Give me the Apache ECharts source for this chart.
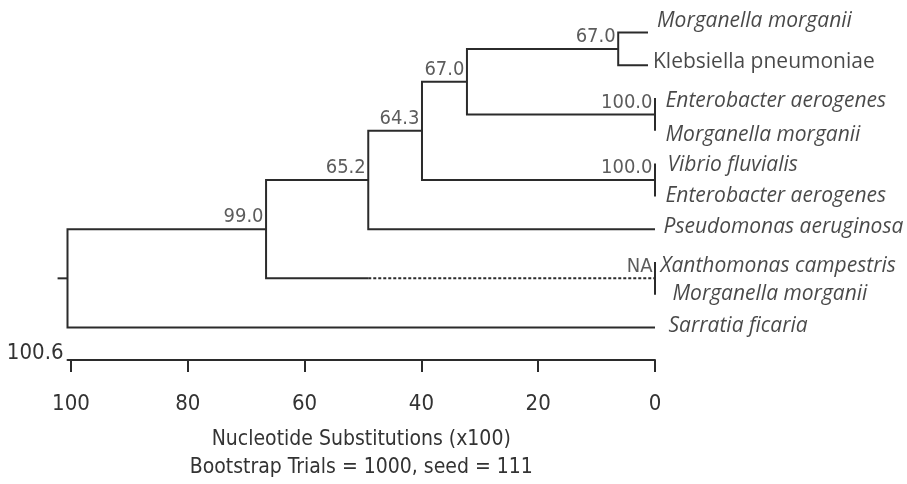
<!DOCTYPE html>
<html><head><meta charset="utf-8">
<script src="https://cdn.jsdelivr.net/npm/echarts@6/dist/echarts.min.js"></script>
<style>html,body{margin:0;padding:0;background:#fff}#c{width:907px;height:484px}</style>
</head><body><div id="c"></div>
<script>
// ---- data ----
const leafNames = ['Morganella morganii','Klebsiella pneumoniae','Enterobacter aerogenes','Morganella morganii','Vibrio fluvialis','Enterobacter aerogenes','Pseudomonas aeruginosa','Xanthomonas campestris','Morganella morganii','Sarratia ficaria'];
const leafHeights = [1.2,1.2,0,0,0,0,0,0,0,0];
const nodeHeights = [6.3,0,32.2,0,39.9,49.1,0,66.6,100.6];
const nodeSupport = ['67.0','100.0','67.0','100.0','64.3','65.2','NA','99.0',''];
const nodeChildren = [['L0','L1'],['L2','L3'],['N0','N1'],['L4','L5'],['N2','N3'],['N4','L6'],['L7','L8'],['N5','N6'],['N7','L9']];
const dashedBranchFrom = {N6: 49.1};
const rootEdge = 1.7;
const rootHeight = 100.6;
const tickValues = [0,20,40,60,80,100];
const axisTitle = ['Nucleotide Substitutions (x100)','Bootstrap Trials = 1000, seed = 111'];

// ---- style ----
const italicLeaf = [true,false,true,true,true,true,true,true,true,true];
const leafLabelNudge = [[9,-11.5],[5,-3],[10.5,3],[10.5,4],[12.5,1],[10.5,0],[8.5,-2],[5.5,4],[17.5,-1],[13.5,-1]];
const NARROW = "'Liberation Sans Narrow','Arial Narrow','DejaVu Sans Condensed',sans-serif";
const LINE = '#2b2b2b';

// ---- build tree geometry ----
const pos = {};
leafNames.forEach((n,i)=>{ pos['L'+i] = {h: leafHeights[i], y: i}; });
nodeHeights.forEach((h,i)=>{
  const [a,b] = nodeChildren[i];
  pos['N'+i] = {h, y: (pos[a].y + pos[b].y)/2};
});
const paths = [];
nodeChildren.forEach(([a,b],i)=>{
  const n = pos['N'+i], ca = pos[a], cb = pos[b];
  const pts = [[ca.h, ca.y],[n.h, ca.y],[n.h, cb.y]];
  if (dashedBranchFrom[b] !== undefined) {
    pts.push([dashedBranchFrom[b], cb.y]);
    paths.push({pts, dashed:false});
    paths.push({pts:[[dashedBranchFrom[b], cb.y],[cb.h, cb.y]], dashed:true});
  } else {
    pts.push([cb.h, cb.y]);
    paths.push({pts, dashed:false});
  }
});
const root = pos['N'+(nodeHeights.length-1)];
paths.push({pts:[[rootHeight+rootEdge, root.y],[rootHeight, root.y]], dashed:false});

const supportData = nodeSupport.map((s,i)=>({name:s, value:[pos['N'+i].h, pos['N'+i].y]})).filter(d=>d.name!=='');
const leafData = leafNames.map((n,i)=>({
  name:n, value:[leafHeights[i], i],
  label:{position: leafLabelNudge[i], fontStyle: italicLeaf[i] ? 'italic':'normal'}
}));

const chart = echarts.init(document.getElementById('c'), null, {renderer:'canvas'});
chart.setOption({
  backgroundColor:'#fff',
  animation:false,
  grid:{left:67.5, right:252, top:32.5, bottom:156.5, containLabel:false, outerBoundsMode:'none'},
  xAxis:{
    type:'value', position:'bottom', inverse:true, min:0, max:rootHeight, offset:32.5,
    axisLine:{onZero:false, lineStyle:{color:LINE, width:2}},
    axisTick:{length:12, lineStyle:{color:LINE, width:2}, customValues: tickValues},
    axisLabel:{customValues: tickValues, margin:33, fontSize:22, fontFamily:NARROW, color:'#333'},
    splitLine:{show:false},
    name: axisTitle.join('\n'), nameLocation:'middle', nameGap:66,
    nameTextStyle:{fontSize:21, lineHeight:28, fontFamily:NARROW, color:'#333'}
  },
  yAxis:{type:'value', inverse:true, min:0, max:leafNames.length-1, show:false},
  series:[
    {
      type:'custom', clip:false, silent:true,
      data: paths.map((p,i)=>[i,0]),
      renderItem:(params, api)=>{
        const p = paths[params.dataIndex];
        return {type:'polyline', shape:{points:p.pts.map(pt=>api.coord(pt))},
          style:{stroke:LINE, lineWidth:2, fill:null, lineDash: p.dashed?[3,2]:null, lineJoin:'miter', lineCap:'butt'}};
      }
    },
    {
      type:'scatter', symbolSize:0, clip:false, silent:true,
      data: supportData,
      label:{show:true, formatter:'{b}', position:[-2.5,-12], align:'right', verticalAlign:'middle',
        fontSize:20, fontFamily:NARROW, color:'#333'}
    },
    {
      type:'scatter', symbolSize:0, clip:false, silent:true,
      data: leafData,
      label:{show:true, formatter:'{b}', align:'left', verticalAlign:'middle',
        fontSize:21, fontFamily:"'Open Sans',sans-serif", color:'#1a1a1a'}
    }
  ]
});
const rx = chart.convertToPixel({xAxisIndex:0}, rootHeight);
const ry = chart.getHeight() - 156.5 + 32.5;
chart.setOption({graphic:[{type:'text', x: rx-4, y: ry+4, style:{text:String(rootHeight), fontSize:22, fontFamily:NARROW, fill:'#333', textAlign:'right', textVerticalAlign:'bottom'}}]});
</script></body></html>
